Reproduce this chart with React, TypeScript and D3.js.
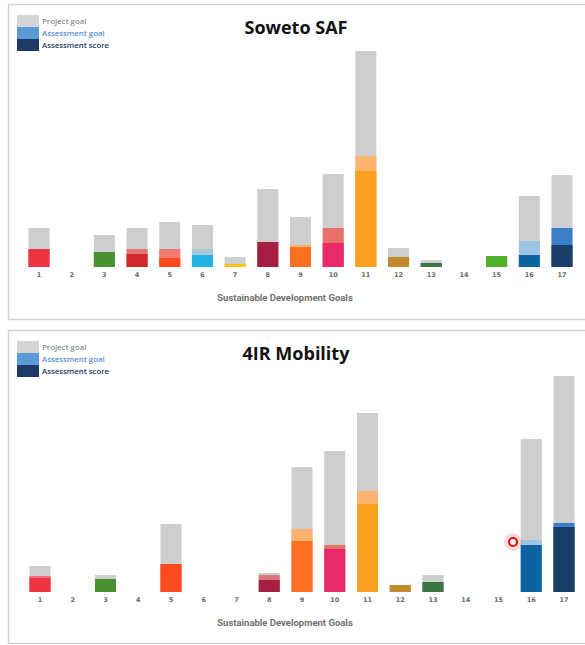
import React from "react";
import * as d3 from "d3";

const sdgs = ["1", "2", "3", "4", "5", "6", "7", "8", "9", "10", "11", "12", "13", "14", "15", "16", "17"];

// Soweto SAF
const sowetoProject = [39, 0, 32, 39, 45, 42, 10, 78, 50, 93, 216, 19, 7, 0, 11, 71, 92];
const sowetoGoal = [18, 0, 15, 18, 18, 18, 3, 25, 22, 39, 111, 10, 4, 0, 11, 26, 39];
const sowetoScore = [18, 0, 15, 13, 9, 12, 3, 25, 20, 24, 96, 10, 4, 0, 11, 12, 22];

// 4IR Mobility
const mobilityProject = [26, 0, 17, 0, 68, 0, 0, 19, 125, 141, 179, 7, 17, 0, 0, 153, 216];
const mobilityGoal = [16, 0, 13, 0, 28, 0, 0, 17, 63, 47, 101, 7, 10, 0, 0, 52, 69];
const mobilityScore = [14, 0, 13, 0, 28, 0, 0, 12, 51, 43, 88, 7, 10, 0, 0, 47, 65];

const scoreColors = ["#ef3340", "#e5243b", "#4a8f32", "#d12a2d", "#ff4a1f", "#22b2e6", "#fcc30b", "#a51f42",
  "#fd7021", "#e62a6c", "#fd9f22", "#c28a2c", "#3d7443", "#0a97d9", "#4fb02a", "#0b63a1", "#183f68"];
const goalColors = ["#f2707a", "#f07080", "#7fb56a", "#e57474", "#f27a70", "#a8c6d6", "#fdd860", "#d9767e",
  "#fdb26e", "#e8726a", "#fdb46c", "#dcb478", "#7fa784", "#66c0e8", "#8ed36e", "#9dc3e6", "#3a80c8"];

const projectColor = "#cecece";

const legendItems = [
  { label: "Project goal", swatch: "#d4d4d4", text: "#8c8c8c" },
  { label: "Assessment goal", swatch: "#5b9bd5", text: "#5a8ee0" },
  { label: "Assessment score", swatch: "#1f3a66", text: "#1f3864" },
];

function Panel(props) {
  const { top, height, title, project, goal, score, x0, x1, baseline } = props;
  const barW = 21;
  const xScale = d3.scalePoint().domain(sdgs).range([x0, x1]);
  const yScale = d3.scaleLinear().domain([0, 220]).range([baseline, baseline - 220]);

  return (
    <g>
      <rect x={8.5} y={top + 0.5} width={620} height={height} fill="#fff" stroke="#d2d2d2" strokeWidth={1.4} />
      {legendItems.map((d, i) => (
        <g key={d.label} transform={`translate(17,${top + 11 + i * 12})`}>
          <rect width={22} height={12} fill={d.swatch} />
          <text x={25} y={8.5} fontSize={7.8} fontWeight={600} fill={d.text} fontFamily="'Open Sans', sans-serif">{d.label}</text>
        </g>
      ))}
      <text x={296} y={top + 30} textAnchor="middle" fontSize={18} fontWeight={700} fill="#111"
        fontFamily="'Open Sans', sans-serif">{title}</text>
      {sdgs.map((s, i) => {
        const cx = xScale(s);
        return (
          <g key={s}>
            {project[i] > 0 && <rect x={cx - barW / 2} y={yScale(project[i])} width={barW} height={baseline - yScale(project[i])} fill={projectColor} />}
            {goal[i] > 0 && <rect x={cx - barW / 2} y={yScale(goal[i])} width={barW} height={baseline - yScale(goal[i])} fill={goalColors[i]} />}
            {score[i] > 0 && <rect x={cx - barW / 2} y={yScale(score[i])} width={barW} height={baseline - yScale(score[i])} fill={scoreColors[i]} />}
            <text x={cx} y={baseline + 10} textAnchor="middle" fontSize={6.5} fill="#6a6a6a" fontWeight={600}
              fontFamily="'DejaVu Sans', sans-serif">{s}</text>
          </g>
        );
      })}
      <text x={285} y={baseline + 34} textAnchor="middle" fontSize={9.5} fontWeight={700} fill="#707070"
        fontFamily="Roboto, sans-serif">Sustainable Development Goals</text>
    </g>
  );
}

export default function App() {
  return (
    <svg width={585} height={645} style={{ position: "absolute", left: 0, top: 0, background: "#fff" }}>
      <rect width={585} height={645} fill="#fff" />
      <Panel top={4} height={315} title="Soweto SAF" project={sowetoProject} goal={sowetoGoal} score={sowetoScore}
        x0={39} x1={562} baseline={267} />
      <Panel top={330} height={313} title="4IR Mobility" project={mobilityProject} goal={mobilityGoal} score={mobilityScore}
        x0={40} x1={564} baseline={592} />
      {/* cursor highlight from the screen capture */}
      <circle cx={513} cy={542} r={9} fill="#ff3030" opacity={0.18} />
      <circle cx={513} cy={542} r={4} fill="#fff" stroke="#e81010" strokeWidth={2.2} />
    </svg>
  );
}
